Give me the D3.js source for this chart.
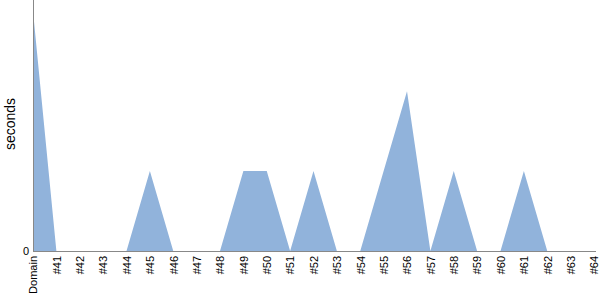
<!DOCTYPE html>
<html><head><meta charset="utf-8">
<script src="https://cdn.jsdelivr.net/npm/d3@7"></script>
<style>body{margin:0;background:#fff}svg{display:block}</style>
</head><body><svg id="c" width="600" height="300"></svg>
<script>
const categories = ["Domain","#41","#42","#43","#44","#45","#46","#47","#48","#49","#50","#51","#52","#53","#54","#55","#56","#57","#58","#59","#60","#61","#62","#63","#64"];
const seconds = [3,0,0,0,0,1,0,0,0,1,1,0,1,0,0,1,2,0,1,0,0,1,0,0,0];
const yTicks = [0];

const svg = d3.select("#c");
const x = d3.scalePoint().domain(categories).range([33, 594]);
const y = d3.scaleLinear().domain([0, 3.14]).range([251, 0]);
const font = "'Liberation Sans', Arial, sans-serif";

const area = d3.area().x((d,i)=>x(categories[i])).y0(y(0)).y1(d=>y(d));
svg.append("path").datum(seconds).attr("d", area).attr("fill", "#91b3db");

const gx = svg.append("g").attr("transform", `translate(0,${y(0)})`)
  .call(d3.axisBottom(x).tickSize(0).tickSizeOuter(0));
gx.select(".domain").attr("stroke", "#888").attr("d", `M33,0.5H596`);
gx.selectAll("text").attr("font-family", font).attr("font-size", 11).attr("fill", "#000")
  .attr("transform", "rotate(-90)").attr("text-anchor", "end").attr("x", -5).attr("y", 0).attr("dy", "0.35em");

const gy = svg.append("g").attr("transform", "translate(33,0)")
  .call(d3.axisLeft(y).tickValues(yTicks).tickFormat(d3.format("d")).tickSize(0).tickSizeOuter(0));
gy.select(".domain").attr("stroke", "#888").attr("d", "M0.5,0V251");
gy.selectAll("text").attr("font-family", font).attr("font-size", 11).attr("fill", "#000").attr("x", -4);

svg.append("text").attr("transform", "translate(15,124) rotate(-90)")
  .attr("text-anchor", "middle").attr("font-family", font).attr("font-size", 14).text("seconds");
</script></body></html>
